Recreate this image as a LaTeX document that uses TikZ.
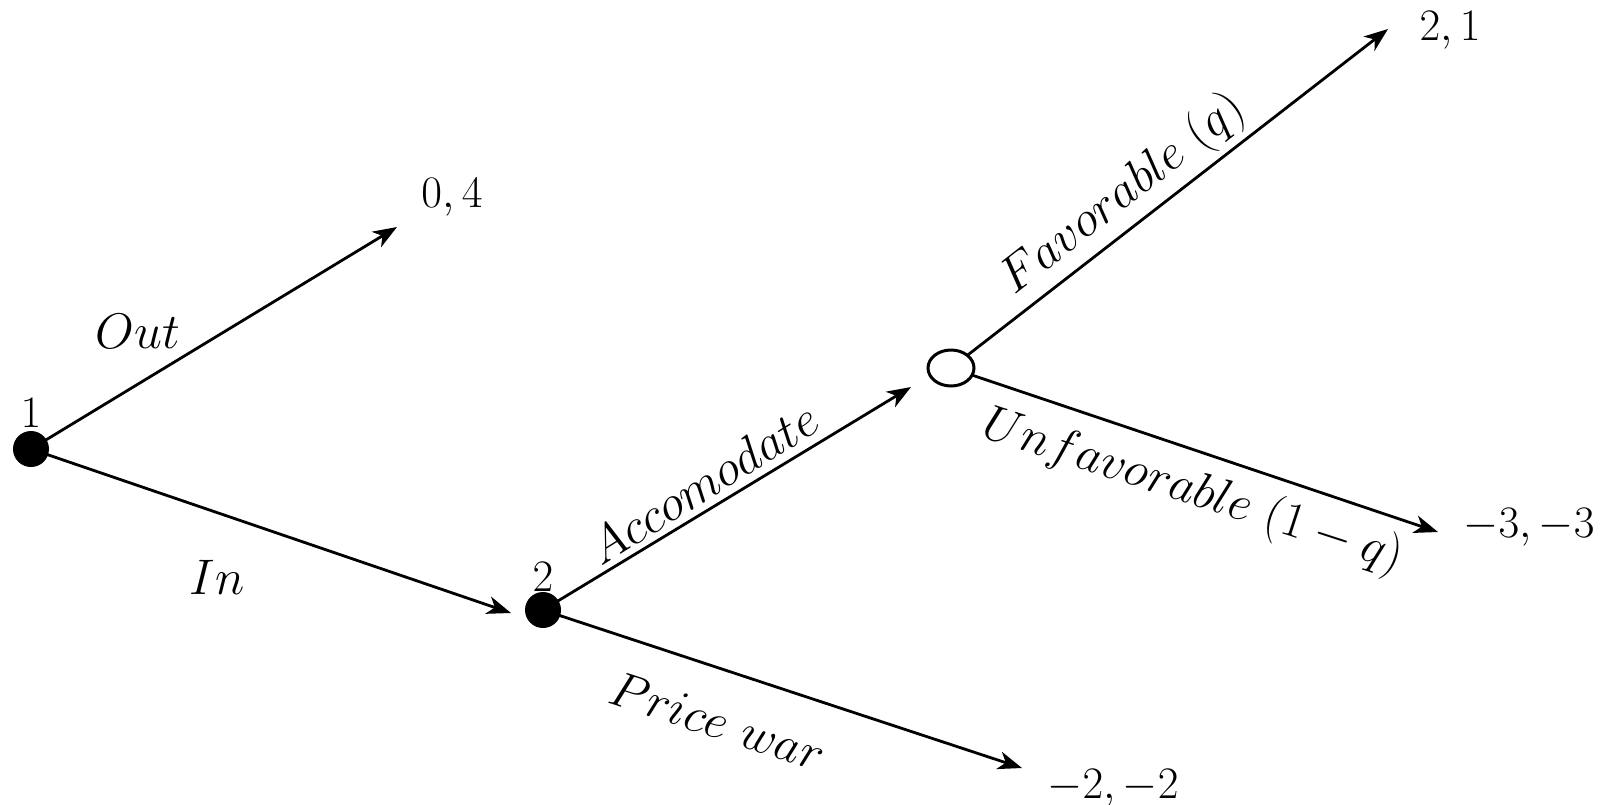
\RequirePackage{fix-cm}
\documentclass[tikz,border=0pt]{standalone}
\usetikzlibrary{arrows.meta,shapes.geometric}
\begin{document}
\begin{tikzpicture}[x=0.5pt,y=-0.5pt,
  dec/.style={circle,fill=black,inner sep=0pt,minimum size=18pt},
  chance/.style={ellipse,draw=black,line width=1.5pt,fill=white,inner sep=0pt,minimum width=23pt,minimum height=18pt},
  arr/.style={line width=1.4pt,-{Stealth[length=12pt,width=9pt,inset=3.5pt]}},
  pay/.style={font=\fontsize{22.5}{27}\selectfont,inner sep=0pt},
  lab/.style={font=\fontsize{25}{30}\selectfont,inner sep=0pt}]
\useasboundingbox (0,0) rectangle (1606,804);
% nodes
\coordinate (c1) at (31,449);
\coordinate (c2) at (543,610);
\coordinate (cc) at (951,368);
% end points
\coordinate (eOut) at (397,227);
\coordinate (eIn) at (511,613);
\coordinate (eAcc) at (911,387);
\coordinate (ePw) at (1022,768);
\coordinate (eFav) at (1388,29);
\coordinate (eUnf) at (1438,532);
% connectors
\draw[arr] (c1) -- (eOut);
\draw[arr] (c1) -- (eIn);
\draw[arr] (c2) -- (eAcc);
\draw[arr] (c2) -- (ePw);
\draw[arr] (cc) -- (eFav);
\draw[arr] (cc) -- (eUnf);
\node[dec] (n1) at (c1) {};
\node[dec] (n2) at (c2) {};
\node[chance] (c) at (cc) {};
% player labels
\node[pay] (l1) at (31,413) {$1$};
\node[pay] (l2) at (543,577) {$2$};
% payoffs
\node[pay] (p1) at (452,197) {$0,4$};
\node[pay] (p2) at (1450,30) {$2,1$};
\node[pay] (p3) at (1529,527) {$-3,-3$};
\node[pay] (p4) at (1113,788) {$-2,-2$};
% action labels
\node[lab] (aOut) at (138,331) {$Out$};
\node[lab] (aIn) at (217,577) {$In$};
\node[lab,rotate=32] (aAcc) at (703,483) {$Accomodate$};
\node[lab,rotate=-18] (aPw) at (718,721) {$Price\ war$};
\node[lab,rotate=38] (aFav) at (1123,195) {$Favorable\ (q)$};
\node[lab,rotate=-18] (aUnf) at (1193,492) {$Unfavorable\ (1-q)$};
\end{tikzpicture}
\end{document}
